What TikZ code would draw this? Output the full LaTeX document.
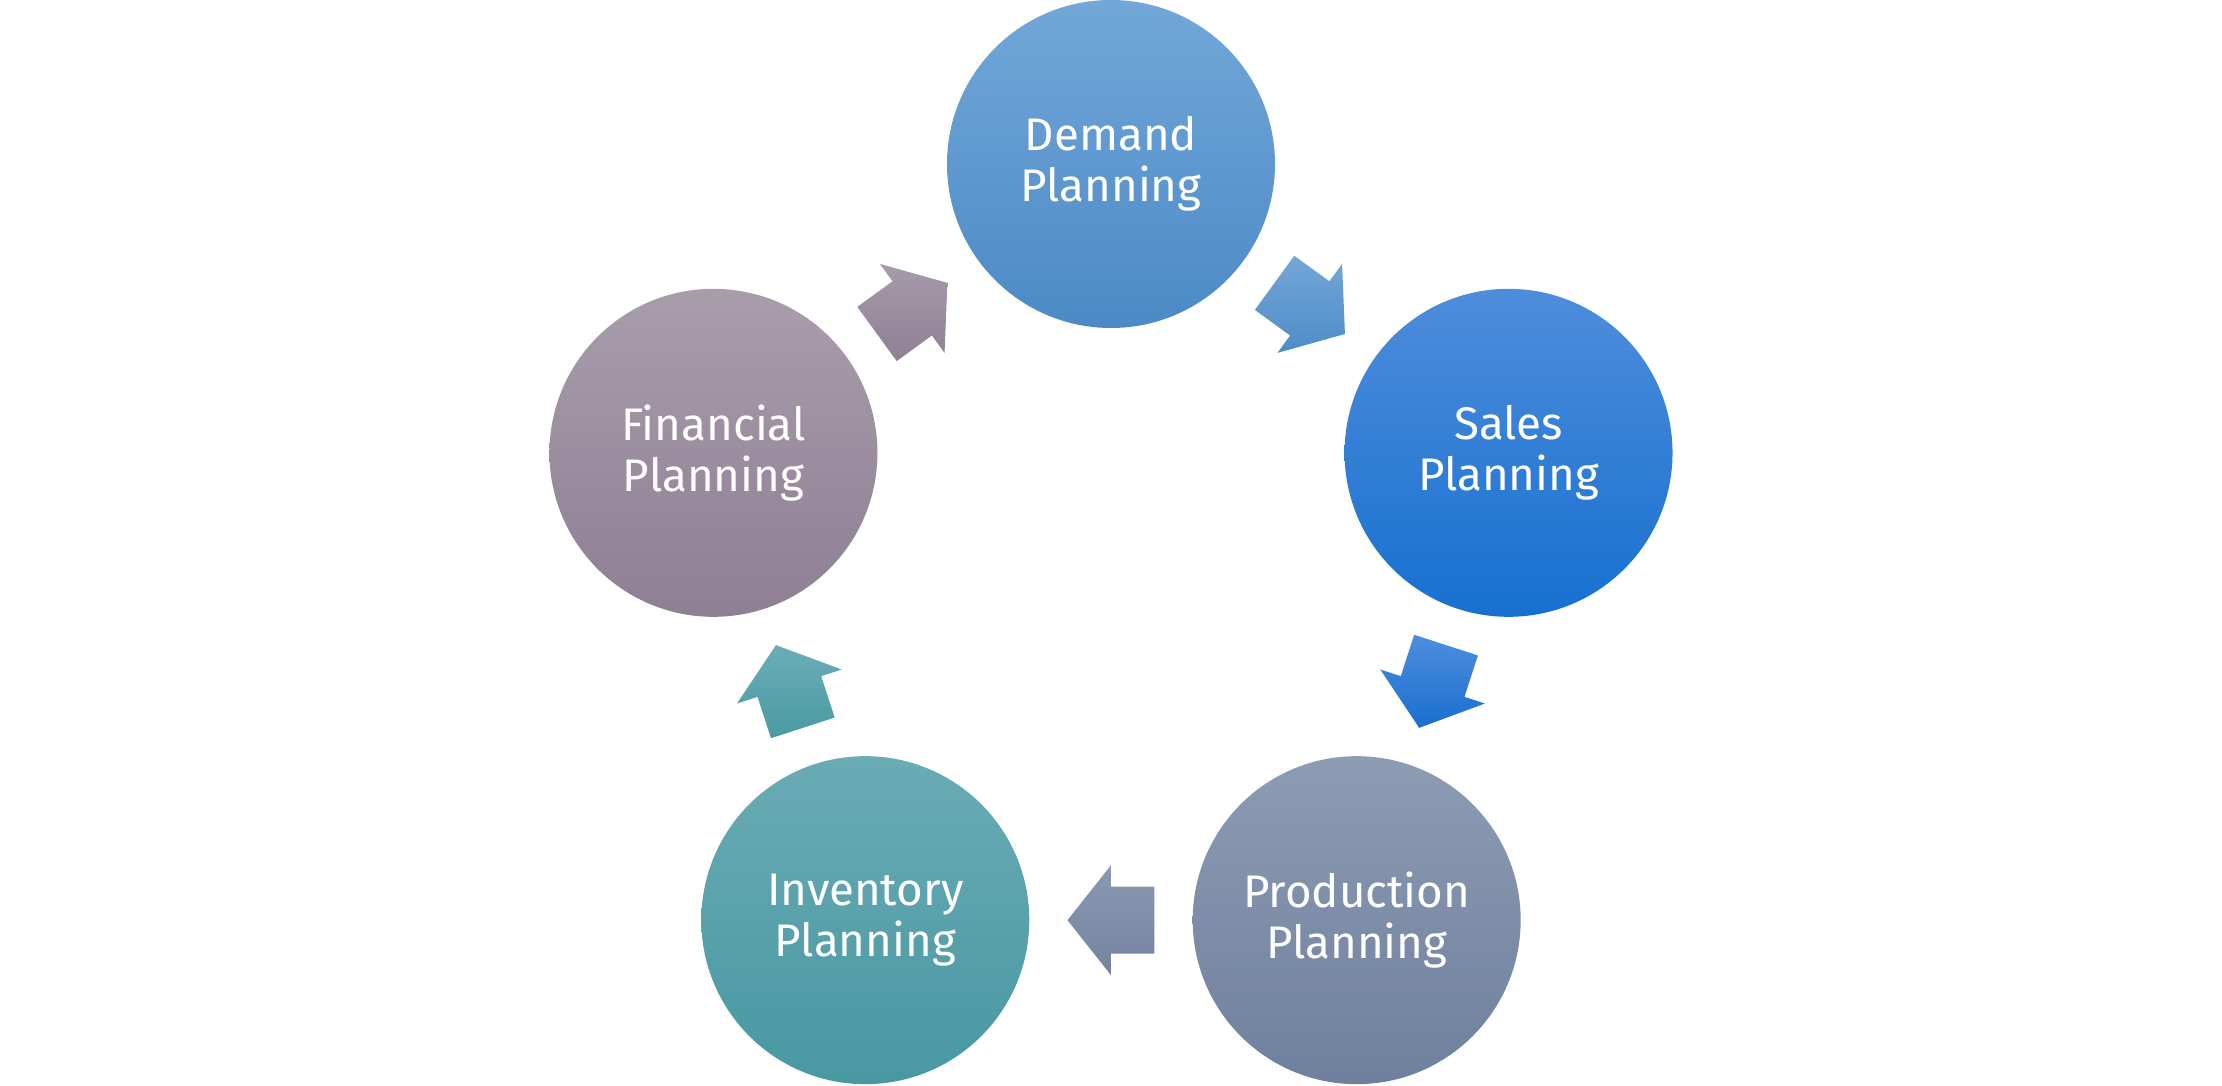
\documentclass[tikz,border=0pt]{standalone}
\usepackage{fontspec}
\setmainfont{Fira Sans}
\usepackage{tikz}
\usetikzlibrary{calc}
% circle colours
\definecolor{demandtop}{HTML}{72A8D8}
\definecolor{demandbot}{HTML}{4C89C6}
\definecolor{salestop}{HTML}{4E8DDB}
\definecolor{salesbot}{HTML}{1770D0}
\definecolor{prodtop}{HTML}{8D9CB3}
\definecolor{prodbot}{HTML}{6F809E}
\definecolor{invtop}{HTML}{6AABB5}
\definecolor{invbot}{HTML}{4898A2}
\definecolor{fintop}{HTML}{A99DAC}
\definecolor{finbot}{HTML}{8E7F93}

\begin{document}
\begin{tikzpicture}[
    stage/.style={circle, minimum size=3.28cm, inner sep=0pt, align=center,
      text=white, font=\fontsize{13}{14.5}\selectfont},
  ]
  \useasboundingbox (-11.11,-5.04) rectangle (11.11,5.82);

  % Kruhy
  \node[stage, top color=demandtop, bottom color=demandbot] (demand) at (90:4.18) {Demand\\Planning};
  \node[stage, top color=salestop, bottom color=salesbot] (sales) at (18:4.18) {Sales\\Planning};
  \node[stage, top color=prodtop, bottom color=prodbot] (production) at (-54:4.18) {Production\\Planning};
  \node[stage, top color=invtop, bottom color=invbot] (inventory) at (-126:4.18) {Inventory\\Planning};
  \node[stage, top color=fintop, bottom color=finbot] (financial) at (162:4.18) {Financial\\Planning};

  % Sipky mezi kruhy
  \foreach \a/\b/\d/\ct/\cb in {demand/sales/-36/73A7D8/4F8CC6,
      sales/production/-108/4E8EDE/1A6ED0,
      production/inventory/180/8B9AB2/7282A0,
      inventory/financial/108/6BADB7/4A9AA3,
      financial/demand/36/A69BAA/8F8094} {
    \coordinate (m-\a) at ($(\a)!0.5!(\b)$);
    \definecolor{arrtop}{HTML}{\ct}
    \definecolor{arrbot}{HTML}{\cb}
    \path[top color=arrtop, bottom color=arrbot]
      ([shift={(m-\a)}, rotate=\d]0.435,0) --
      ([shift={(m-\a)}, rotate=\d]0,0.55) --
      ([shift={(m-\a)}, rotate=\d]0,0.335) --
      ([shift={(m-\a)}, rotate=\d]-0.435,0.335) --
      ([shift={(m-\a)}, rotate=\d]-0.435,-0.335) --
      ([shift={(m-\a)}, rotate=\d]0,-0.335) --
      ([shift={(m-\a)}, rotate=\d]0,-0.55) -- cycle;
  }
\end{tikzpicture}
\end{document}
